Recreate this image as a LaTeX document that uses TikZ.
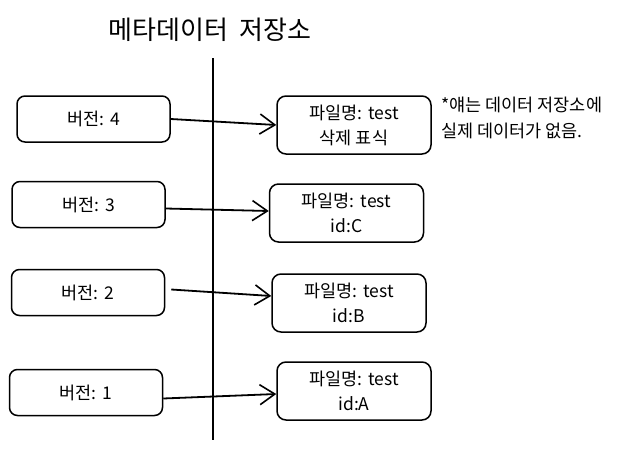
\documentclass[tikz,border=0pt]{standalone}
\usepackage{fontspec}
\setmainfont{Noto Sans CJK KR}
\usetikzlibrary{arrows.meta,calc}
\begin{document}
\begin{tikzpicture}[x=1pt,y=-1pt,
  verbox/.style={draw, line width=1.5pt, rounded corners=8pt, minimum width=153pt, minimum height=46pt, inner sep=0pt, font=\fontsize{17.5}{26}\selectfont},
  filebox/.style={draw, line width=1.5pt, rounded corners=9pt, minimum width=154pt, minimum height=58pt, inner sep=0pt, align=center, font=\fontsize{17.5}{25}\selectfont},
  link/.style={line width=1.8pt, -{Straight Barb[length=15pt,width=20pt,line width=1.6pt]}},
  note/.style={align=left, anchor=west, inner sep=0pt, font=\fontsize{17.5}{26}\selectfont}]
\useasboundingbox (0,0) rectangle (644,455);
\node (title) at (210,30) {\fontsize{26}{30}\selectfont 메타데이터\hspace{0.45em}저장소};
\coordinate (top) at (213,58);
\coordinate (bot) at (213,440);
\draw[line width=2.2pt] (top) -- (bot);

\node[verbox] (L4) at (93.5,119) {버전:\hspace{0.35em}4};
\node[verbox] (L3) at (88.5,204.5) {버전:\hspace{0.35em}3};
\node[verbox] (L2) at (88,292.5) {버전:\hspace{0.35em}2};
\node[verbox] (L1) at (86,392.5) {버전:\hspace{0.35em}1};

\node[filebox] (R4) at (354,125) {파일명:\hspace{0.35em}test\\삭제 표식};
\node[filebox] (RC) at (346.5,213) {파일명:\hspace{0.35em}test\\id:C};
\node[filebox] (RB) at (349,303) {파일명:\hspace{0.35em}test\\id:B};
\node[filebox] (RA) at (354,391) {파일명:\hspace{0.35em}test\\id:A};

\node[note] (N) at (441,118) {*얘는 데이터 저장소에\\실제 데이터가 없음.};

\draw[link] (L4.east) -- (R4.west);
\draw[link] ($(L3.east)+(0,4)$) -- ($(RC.west)+(0,-2)$);
\draw[link] ($(L2.east)+(6,-3)$) -- ($(RB.west)+(0,-7)$);
\draw[link] ($(L1.east)+(0,6)$) -- ($(RA.west)+(0,3)$);
\end{tikzpicture}
\end{document}
